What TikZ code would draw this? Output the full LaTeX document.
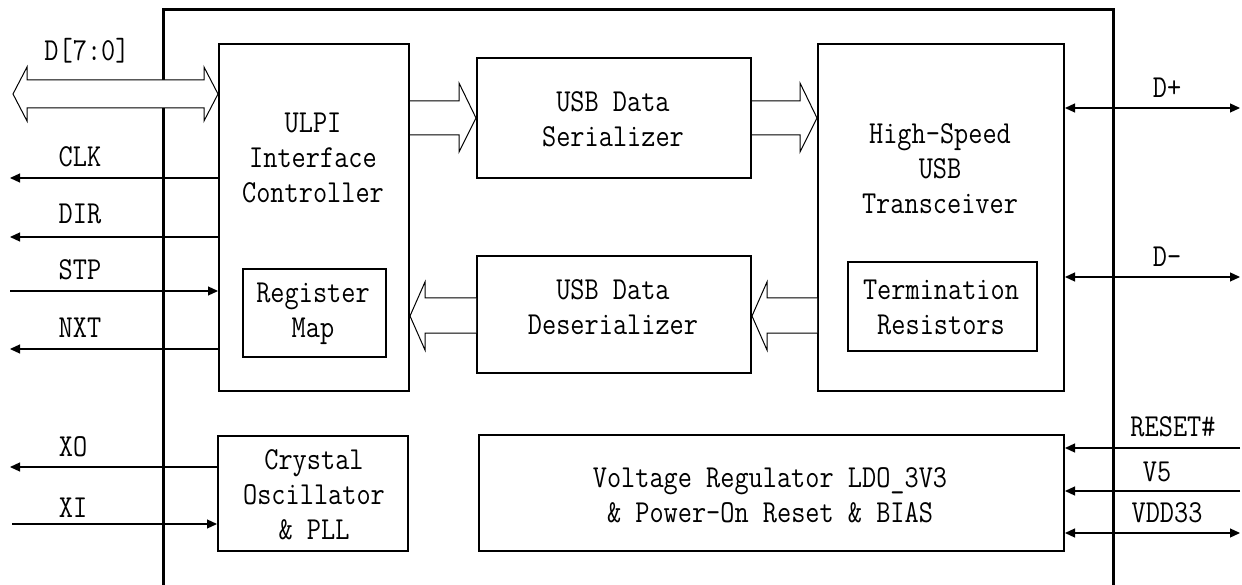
\documentclass[tikz,border=0pt]{standalone}
\usepackage{fontspec}
\setmainfont{Latin Modern Mono}[FakeStretch=0.86]
\usetikzlibrary{arrows.meta}
\tikzset{
  outerbox/.style={line width=3pt},
  blk/.style={draw, line width=2pt, anchor=north west, inner sep=0pt},
  txt/.style={align=center, font=\fontsize{32}{35}\selectfont, inner sep=0pt},
  lbl/.style={font=\fontsize{32}{35}\selectfont, inner sep=0pt},
  sig/.style={line width=1.2pt, -{Triangle[length=10pt,width=9pt]}},
  sigb/.style={line width=1.2pt, {Triangle[length=10pt,width=9pt]}-{Triangle[length=10pt,width=9pt]}},
  hollow/.style={line width=1pt, fill=white, line join=miter}
}
\begin{document}
\begin{tikzpicture}[x=1pt,y=-1pt]
\useasboundingbox (0,0) rectangle (1242,585);
% outer chip outline (open at bottom)
\draw[outerbox] (163,585) -- (163,10) -- (1113,10) -- (1113,585);
% blocks
\node[blk, minimum width=190, minimum height=347] (ulpi) at (218,43) {};
\node[blk, minimum width=143, minimum height=88] (reg) at (242,268) {};
\node[blk, minimum width=274, minimum height=120] (ser) at (476,57) {};
\node[blk, minimum width=274, minimum height=117] (des) at (476,255) {};
\node[blk, minimum width=246, minimum height=347] (hs) at (817,43) {};
\node[blk, minimum width=189, minimum height=89] (term) at (847,261) {};
\node[blk, minimum width=190, minimum height=115] (xtal) at (217,435) {};
\node[blk, minimum width=585, minimum height=116] (vreg) at (478,434) {};
% block texts
\node[txt] (tulpi) at (313,158) {ULPI\\Interface\\Controller};
\node[txt] (treg) at (313,314) {Register\\Map};
\node[txt] (tser) at (613,119) {USB Data\\Serializer};
\node[txt] (tdes) at (613,307) {USB Data\\Deserializer};
\node[txt] (ths) at (940,169) {High-Speed\\USB\\Transceiver};
\node[txt] (tterm) at (941,307) {Termination\\Resistors};
\node[txt] (txtal) at (314,495) {Crystal\\Oscillator\\\& PLL};
\node[txt] (tvreg) at (770,495) {Voltage Regulator LDO\_3V3\\\& Power-On Reset \& BIAS};
% hollow bus arrows
\draw[hollow] (13,94) -- (27,67) -- (27,80) -- (204,80) -- (204,67) -- (ulpi.west |- 0,94) -- (204,121) -- (204,108) -- (27,108) -- (27,121) -- cycle;
\draw[hollow] (ulpi.east |- 0,101) -- (459,101) -- (459,83) -- (ser.west |- 0,118) -- (459,152) -- (459,135) -- (ulpi.east |- 0,135);
\draw[hollow] (ser.east |- 0,101) -- (800,101) -- (800,83) -- (hs.west |- 0,118) -- (800,152) -- (800,135) -- (ser.east |- 0,135);
\draw[hollow] (des.west |- 0,298) -- (425,298) -- (425,282) -- (ulpi.east |- 0,316) -- (425,350) -- (425,333) -- (des.west |- 0,333);
\draw[hollow] (hs.west |- 0,298) -- (767,298) -- (767,282) -- (des.east |- 0,316) -- (767,350) -- (767,333) -- (hs.west |- 0,333);
% left signals
\coordinate (clk) at (10,178);
\coordinate (dir) at (10,237);
\coordinate (stp) at (10,291);
\coordinate (nxt) at (10,349);
\coordinate (xo) at (10,467);
\coordinate (xi) at (12,524);
\draw[sig] (ulpi.west |- clk) -- (clk);
\draw[sig] (ulpi.west |- dir) -- (dir);
\draw[sig] (stp) -- (ulpi.west |- stp);
\draw[sig] (ulpi.west |- nxt) -- (nxt);
\draw[sig] (xtal.west |- xo) -- (xo);
\draw[sig] (xi) -- (xtal.west |- xi);
% right signals
\coordinate (dp) at (1240,108);
\coordinate (dm) at (1240,277);
\coordinate (rst) at (1240,448);
\coordinate (v5) at (1240,491);
\coordinate (vdd) at (1240,533);
\draw[sigb] (hs.east |- dp) -- (dp);
\draw[sigb] (hs.east |- dm) -- (dm);
\draw[sig] (rst) -- (vreg.east |- rst);
\draw[sig] (v5) -- (vreg.east |- v5);
\draw[sigb] (vreg.east |- vdd) -- (vdd);
% labels
\node[lbl] (ld) at (87,51) {D[7:0]};
\node[lbl] (lclk) at (80,157) {CLK};
\node[lbl] (ldir) at (80,214) {DIR};
\node[lbl] (lstp) at (80,270) {STP};
\node[lbl] (lnxt) at (80,328) {NXT};
\node[lbl] (lxo) at (73,447) {XO};
\node[lbl] (lxi) at (73,508) {XI};
\node[lbl] (ldp) at (1167,88) {D+};
\node[lbl] (ldm) at (1167,257) {D-};
\node[lbl] (lrst) at (1173,427) {RESET\#};
\node[lbl] (lv5) at (1157,472) {V5};
\node[lbl] (lvdd) at (1167,513) {VDD33};
\end{tikzpicture}
\end{document}
